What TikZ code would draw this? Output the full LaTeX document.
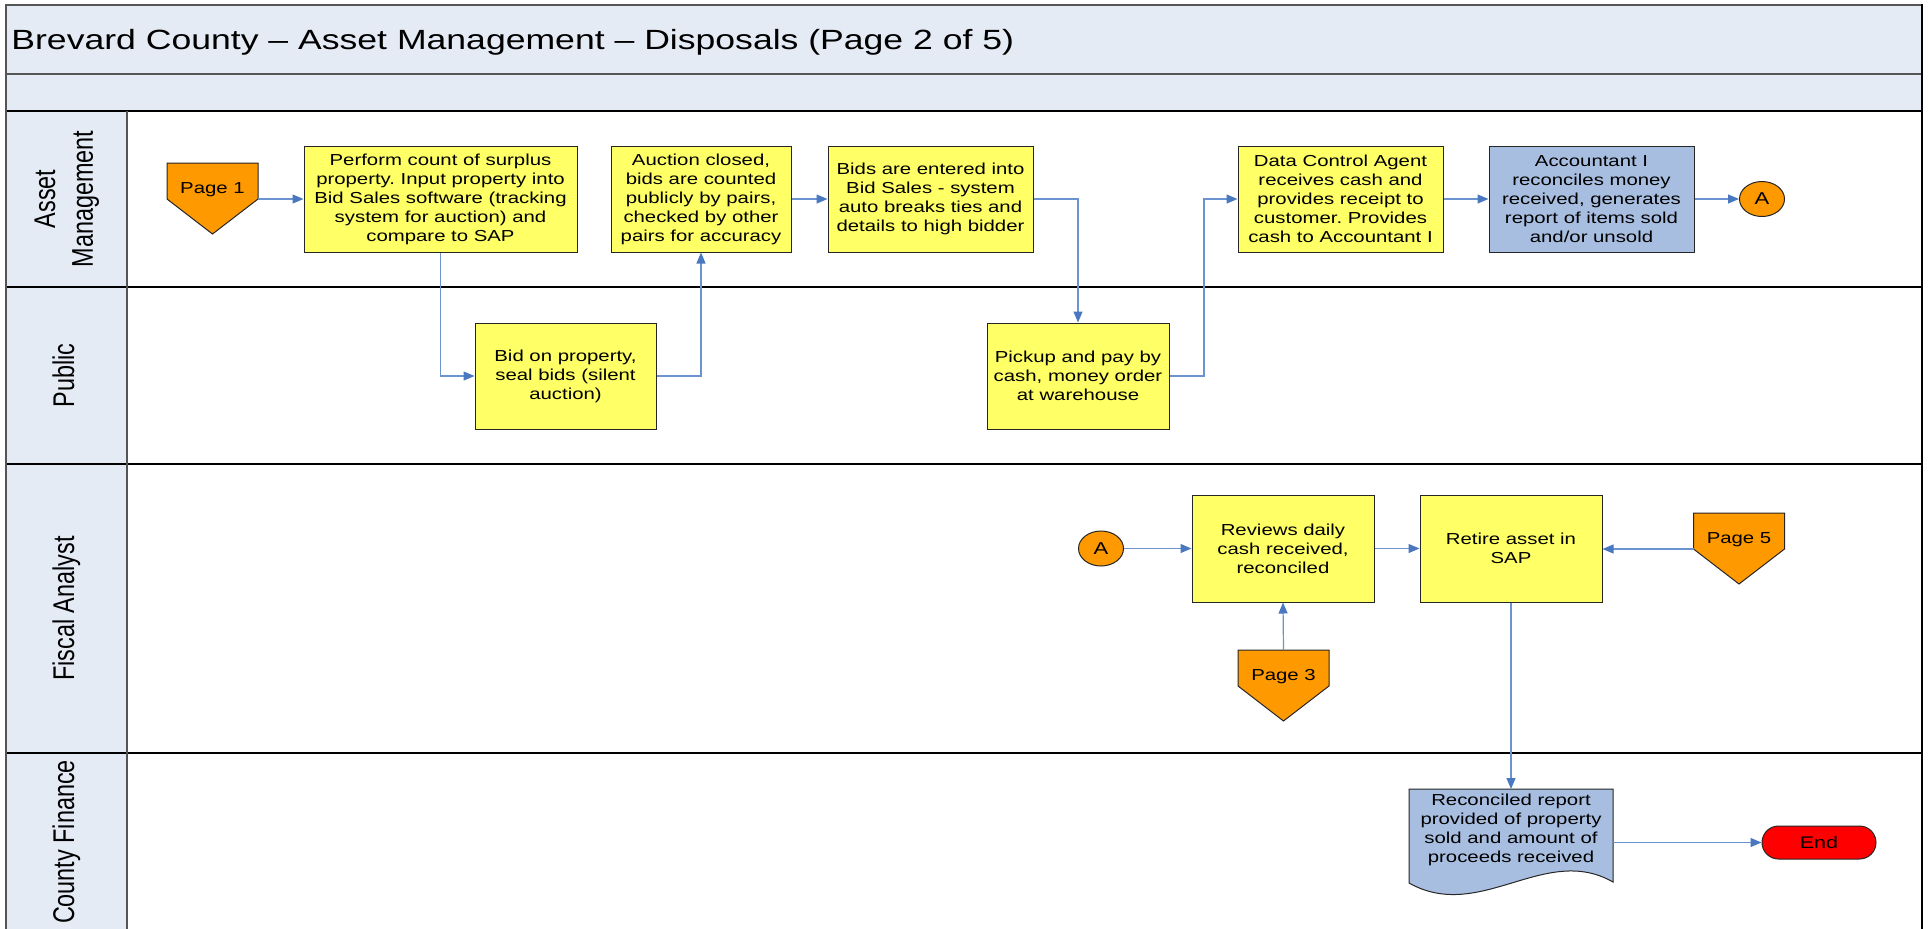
\documentclass[tikz,border=0pt]{standalone}
\usepackage{fontspec}
\setmainfont{Liberation Sans}[FakeStretch=1.28]
\newfontfamily\lanefont{Liberation Sans}
\usetikzlibrary{arrows.meta,shapes.geometric,calc}
\frenchspacing

\definecolor{bandfill}{HTML}{E4EBF5}
\definecolor{boxyellow}{HTML}{FFFF66}
\definecolor{boxblue}{HTML}{A8BEE0}
\definecolor{connorange}{HTML}{FF9900}
\definecolor{endred}{HTML}{FF0000}
\definecolor{flowline}{HTML}{6A93CF}
\definecolor{flowhead}{HTML}{4A78C0}
\definecolor{framegray}{HTML}{555555}

\tikzset{
  boxtext/.style={font=\fontsize{7.95}{9.5}\selectfont},
  procbox/.style={boxtext, draw=black!85, line width=0.5pt, fill=boxyellow,
    align=center, inner sep=0pt},
  bluebox/.style={procbox, fill=boxblue},
  connA/.style={ellipse, draw=black!85, line width=0.5pt, fill=connorange,
    minimum width=22.5pt, minimum height=17.5pt, inner sep=0pt,
    font=\fontsize{8.6}{10}\selectfont},
  endbox/.style={draw=black!85, line width=0.5pt, fill=endred, rounded corners=8.25pt,
    minimum width=57pt, minimum height=16.5pt, inner sep=0pt,
    font=\fontsize{8.4}{10}\selectfont},
  flow/.style={draw=flowline, line width=0.6pt,
    -{Triangle[length=5.5pt,width=4.5pt,color=flowhead,fill=flowhead]}},
  bandrule/.style={draw=framegray, line width=1.2pt},
  lanerule/.style={draw=black, line width=0.8pt},
  colrule/.style={draw=framegray, line width=0.7pt},
  lanelabel/.style={inner sep=0pt},
  offpage/.pic={
    \draw[fill=connorange, draw=black!85, line width=0.5pt]
      (-45.5,0) -- (45.5,0) -- (45.5,36) -- (0,71) -- (-45.5,36) -- cycle;
    \coordinate (-top) at (0,0);
    \coordinate (-east) at (45.5,36);
    \coordinate (-west) at (-45.5,36);
    \node[boxtext] (-lbl) at (0,27) {#1};
  }
}

\newcommand{\lanetext}[1]{\scalebox{1.28}[1]{\rotatebox{90}{%
  \lanefont\fontsize{11.7}{14.7}\selectfont
  \begin{tabular}{@{}c@{}}#1\end{tabular}}}}

\begin{document}
\begin{tikzpicture}[x=0.5pt, y=-0.5pt]
\useasboundingbox (0,0) rectangle (1929,928);
\clip (0,0) rectangle (1929,928);

% ---- pool frame: title band, spacer band, lane header column ----
\fill[bandfill] (6,5) rectangle (1922,111);
\fill[bandfill] (6,111) rectangle (127,940);
\draw[bandrule] (6,5) -- (1922,5);
\draw[bandrule] (6,74) -- (1922,74);
\draw[lanerule] (6,111) -- (1922,111);
\draw[lanerule] (6,287) -- (1922,287);
\draw[lanerule] (6,464) -- (1922,464);
\draw[lanerule] (6,753) -- (1922,753);
\draw[colrule] (127,111) -- (127,940);
\draw[bandrule] (6,4) -- (6,940);
\draw[draw=black, line width=0.8pt] (1922,4) -- (1922,940);

\node[anchor=west, inner sep=0pt, font=\fontsize{13.9}{16}\selectfont] (title)
  at (11,42) {Brevard County -- Asset Management -- Disposals (Page 2 of 5)};

% ---- lane labels ----
\node[lanelabel] (laneAM) at (66.5,199) {\lanetext{Asset\\Management}};
\node[lanelabel] (lanePub) at (66.5,375.5) {\lanetext{Public}};
\node[lanelabel] (laneFA) at (66.5,608.5) {\lanetext{Fiscal Analyst}};
\node[lanelabel] (laneCF) at (66.5,842) {\lanetext{County Finance}};

% ---- Asset Management lane ----
\pic (pg1) at (212.5,163) {offpage=Page 1};
\node[procbox, minimum width=136.5pt, minimum height=53pt] (count) at (440.5,199)
  {Perform count of surplus\\property. Input property into\\Bid Sales software (tracking\\system for auction) and\\compare to SAP};
\node[procbox, minimum width=90pt, minimum height=53pt] (closed) at (701,199)
  {Auction closed,\\bids are counted\\publicly by pairs,\\checked by other\\pairs for accuracy};
\node[procbox, minimum width=102.5pt, minimum height=53pt] (entered) at (930.5,199)
  {Bids are entered into\\Bid Sales - system\\auto breaks ties and\\details to high bidder};
\node[procbox, minimum width=102.5pt, minimum height=53pt] (agent) at (1340.5,199)
  {Data Control Agent\\receives cash and\\provides receipt to\\customer. Provides\\cash to Accountant I};
\node[bluebox, minimum width=102.5pt, minimum height=53pt] (acct) at (1591.5,199)
  {Accountant I\\reconciles money\\received, generates\\report of items sold\\and/or unsold};
\node[connA] (aout) at (1762,199) {A};

% ---- Public lane ----
\node[procbox, minimum width=90.5pt, minimum height=53pt] (bid) at (565.5,376)
  {Bid on property,\\seal bids (silent\\auction)};
\node[procbox, minimum width=91pt, minimum height=53pt] (pickup) at (1078,376)
  {Pickup and pay by\\cash, money order\\at warehouse};

% ---- Fiscal Analyst lane ----
\node[connA] (ain) at (1101,548.5) {A};
\node[procbox, minimum width=91pt, minimum height=53.5pt] (review) at (1283,548.5)
  {Reviews daily\\cash received,\\reconciled};
\node[procbox, minimum width=91pt, minimum height=53.5pt] (retire) at (1511,548.5)
  {Retire asset in\\SAP};
\pic (pg5) at (1739,513) {offpage=Page 5};
\pic (pg3) at (1283.5,650) {offpage=Page 3};

% ---- County Finance lane ----
\draw[fill=boxblue, draw=black!85, line width=0.5pt]
  (1409,789) -- (1613,789) -- (1613,882)
  .. controls (1545,843) and (1480,923) .. (1409,883) -- cycle;
\node[boxtext, align=center, inner sep=0pt] (report) at (1511,830)
  {Reconciled report\\provided of property\\sold and amount of\\proceeds received};
\coordinate (reportTop) at (1511,789);
\coordinate (reportEast) at (1613,842.5);
\node[endbox] (fin) at (1819,842.5) {End};

% ---- connectors ----
\draw[flow] (pg1-east) -- (count.west);
\draw[flow] (count.south) |- (bid.west);
\draw[flow] (bid.east) -| (closed.south);
\draw[flow] (closed.east) -- (entered.west);
\draw[flow] (entered.east) -| (pickup.north);
\draw[flow] (pickup.east) -- ++(34.5,0) |- (agent.west);
\draw[flow] (agent.east) -- (acct.west);
\draw[flow] (acct.east) -- (aout.west);
\draw[flow] (ain.east) -- (review.west);
\draw[flow] (review.east) -- (retire.west);
\draw[flow] (pg5-west) -- (retire.east |- pg5-west);
\draw[flow] (pg3-top) -- (review.south);
\draw[flow] (retire.south) -- (reportTop);
\draw[flow] (reportEast) -- (fin.west);
\end{tikzpicture}
\end{document}
